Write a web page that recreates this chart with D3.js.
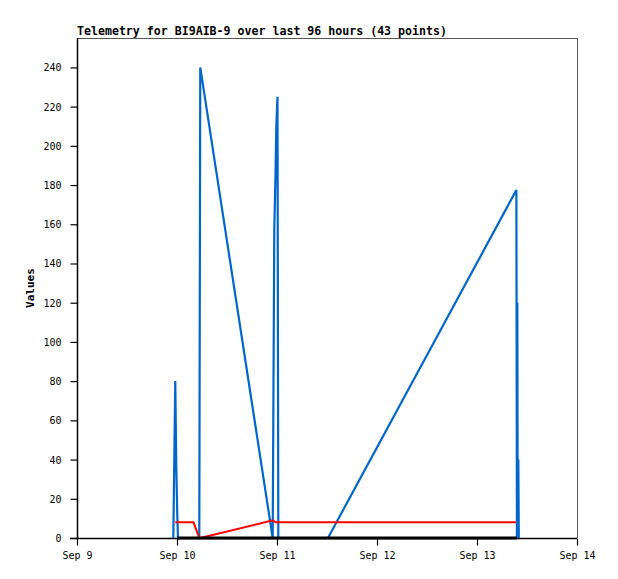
<!DOCTYPE html>
<html><head><meta charset="utf-8">
<script src="https://cdn.jsdelivr.net/npm/d3@7"></script>
<style>body{margin:0;background:#fff}svg{display:block}</style>
</head><body>
<svg id="c" width="618" height="579"></svg>
<script>
const titleText = "Telemetry for BI9AIB-9 over last 96 hours (43 points)";
const yLabel = "Values";
const xDomain = ["2024-09-09T00:00:00Z", "2024-09-14T00:00:00Z"];
const yTicks = [0,20,40,60,80,100,120,140,160,180,200,220,240];
const times = [
 "2024-09-09T23:07:00Z","2024-09-09T23:21:00Z","2024-09-09T23:35:00Z","2024-09-09T23:50:00Z",
 "2024-09-10T00:04:00Z","2024-09-10T00:14:00Z","2024-09-10T03:58:00Z","2024-09-10T05:21:00Z",
 "2024-09-10T05:35:00Z","2024-09-10T22:58:00Z","2024-09-10T23:21:00Z","2024-09-10T23:38:00Z",
 "2024-09-10T23:50:00Z","2024-09-11T00:07:00Z","2024-09-11T00:19:00Z","2024-09-11T12:14:00Z",
 "2024-09-13T09:20:00Z","2024-09-13T09:27:00Z","2024-09-13T09:35:00Z","2024-09-13T09:41:00Z",
 "2024-09-13T09:46:00Z","2024-09-13T09:55:00Z","2024-09-13T10:02:00Z"
];
const blueValues  = [0,40,80,36,12,0,0,0,240,0,158,184,210,225,0,0,177,177,0,120,0,40,0];
const redValues   = [null,null,8,8,8,8,8,0,0,9,8.5,8,8,8,8,8,8,null,null,null,null,null,null];
const blackValues = [null,null,null,null,0,0,0,0,0,0,0,0,0,0,0,0,0,0,0,null,null,null,null];

const svg = d3.select("#c");
const L=77, R=577, T=38, B=538;
const parse = d3.isoParse;
const x = d3.scaleUtc().domain(xDomain.map(parse)).range([L,R]);
const y = d3.scaleLinear().domain([0,255]).range([B,T]);
const font = "'DejaVu Sans Mono', monospace";

// border
svg.append("line").attr("x1",L).attr("x2",R).attr("y1",T+0.5).attr("y2",T+0.5).attr("stroke","#555");
svg.append("line").attr("x1",R+0.5).attr("x2",R+0.5).attr("y1",T).attr("y2",B).attr("stroke","#555");

const fmt = d3.utcFormat("%b %-d");
const xAxis = d3.axisBottom(x).ticks(d3.utcDay.every(1)).tickFormat(fmt).tickSize(7).tickPadding(6);
const gx = svg.append("g").attr("transform",`translate(0,${B+0.5})`).call(xAxis);
const yAxis = d3.axisLeft(y).tickValues(yTicks).tickSize(7).tickPadding(9);
const gy = svg.append("g").attr("transform",`translate(${L+0.5},0)`).call(yAxis);
[gx,gy].forEach(g=>{
  g.select(".domain").attr("stroke","#000").attr("stroke-width",1.5);
  g.selectAll(".tick line").attr("stroke","#000").attr("stroke-width",1.2);
  g.selectAll("text").attr("font-family",font).attr("font-size","10px").attr("fill","#000");
});
gy.select(".domain").attr("d",`M0,${B}V${T}`);
gx.select(".domain").attr("d",`M${L-7},0H${R}`);
gy.selectAll(".tick text").attr("dy","0.35em");

const rows = times.map((t,i)=>({t:parse(t), b:blueValues[i], r:redValues[i], k:blackValues[i]}));
function mk(key){
  return d3.line().defined(d=>d[key]!=null).x(d=>x(d.t)).y(d=>y(d[key]));
}
const g = svg.append("g").attr("fill","none").attr("stroke-linejoin","miter");
g.append("path").attr("d",mk("b")(rows)).attr("stroke","#0066cc").attr("stroke-width",2.2);
g.append("path").attr("d",mk("r")(rows)).attr("stroke","#ff0000").attr("stroke-width",2);
g.append("path").attr("d",mk("k")(rows)).attr("stroke","#000").attr("stroke-width",3);

svg.append("text").attr("x",L).attr("y",35).text(titleText)
  .attr("font-family",font).attr("font-size","11.6px").attr("font-weight","bold").attr("fill","#000");
svg.append("text").attr("transform",`translate(34,${(T+B)/2}) rotate(-90)`).attr("text-anchor","middle")
  .text(yLabel).attr("font-family",font).attr("font-size","11px").attr("font-weight","bold").attr("fill","#000");
</script>
</body></html>
